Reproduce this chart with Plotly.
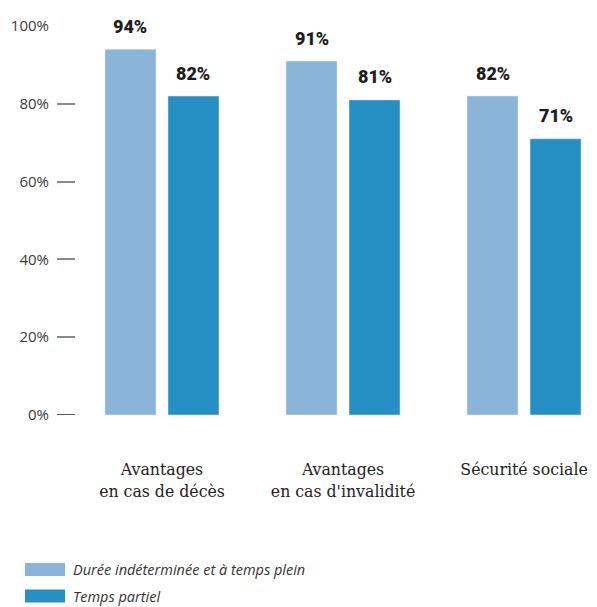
import plotly.graph_objects as go

categories = ["Avantages<br>en cas de décès", "Avantages<br>en cas d'invalidité", "Sécurité sociale"]
series_names = ["Durée indéterminée et à temps plein", "Temps partiel"]
full_time = [94, 91, 82]
part_time = [82, 81, 71]
y_ticks = [0, 20, 40, 60, 80, 100]
y_tick_labels = ["0%", "20%", "40%", "60%", "80%", "100%"]

colors = ["#8ab4d8", "#268fc3"]
bar_w = 0.2818
offsets = [-0.315, 0.0331]

xs = list(range(len(categories)))
fig = go.Figure()
for vals, name, col, off in zip([full_time, part_time], series_names, colors, offsets):
    fig.add_trace(go.Bar(x=xs, y=vals, name=name, marker_color=col, width=bar_w,
                         offset=off, showlegend=False, hoverinfo="skip"))
    for x, v in zip(xs, vals):
        fig.add_annotation(x=x + off + bar_w / 2, y=v, text=f"{v}%", showarrow=False,
                           yshift=23, font=dict(family="Roboto", size=18, color="#1e1e1e", weight=900))

fig.update_layout(
    width=589, height=599,
    margin=dict(l=49, r=0, t=18, b=192),
    paper_bgcolor="white", plot_bgcolor="white",
    barmode="overlay",
    xaxis=dict(range=[-0.580, 2.403], tickvals=xs, ticktext=categories, showgrid=False,
               zeroline=False, showline=False, ticks="", ticklabelstandoff=41,
               tickfont=dict(family="DejaVu Serif Condensed", size=17.5, color="#222")),
    yaxis=dict(range=[0, 100], tickvals=y_ticks, ticktext=y_tick_labels, showgrid=False,
               zeroline=False, showline=False, ticks="inside", ticklen=18, tickwidth=1.5,
               tickcolor="#8a8a8a", ticklabelstandoff=7,
               tickfont=dict(family="Open Sans", size=15, color="#3a3a3a")),
)

# zero tick darker
fig.add_shape(type="line", xref="paper", yref="y", x0=0, x1=18 / 540, y0=0, y1=0,
              line=dict(color="#222", width=1.5))

# custom legend
leg_rows = [569.5, 596]
for name, col, py in zip(series_names, colors, leg_rows):
    yc = (415 - py) / 389
    fig.add_shape(type="rect", xref="paper", yref="paper",
                  x0=(25 - 57) / 540, x1=(65 - 57) / 540,
                  y0=yc - 6.5 / 389, y1=yc + 6.5 / 389,
                  fillcolor=col, line=dict(width=0))
    fig.add_annotation(xref="paper", yref="paper", x=(71 - 57) / 540, y=yc, xanchor="left",
                       yanchor="middle", text=f"<i>{name}</i>", showarrow=False,
                       font=dict(family="Open Sans", size=14.5, color="#333"))

fig.write_html("out.html")
